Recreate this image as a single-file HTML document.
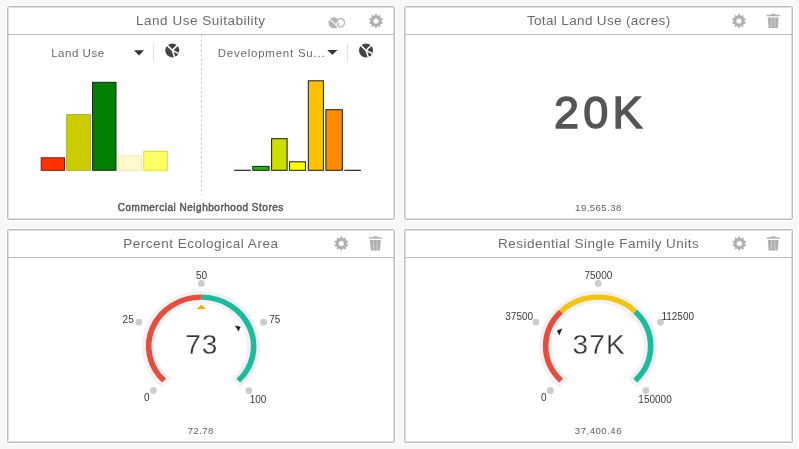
<!DOCTYPE html>
<html><head><meta charset="utf-8"><title>Dashboard</title>
<style>
html,body{margin:0;padding:0;}
body{width:799px;height:449px;background:#f7f7f7;position:relative;overflow:hidden;font-family:"Liberation Sans", Arial, sans-serif;}
.p{position:absolute;background:#fff;border:1px solid #bdbdbd;box-sizing:border-box;box-shadow:0 0 0 1px #fff, inset 0 0 0 1px #dedede;border-radius:1.5px;}
.p .h{position:absolute;left:0;right:0;top:0;height:27px;border-bottom:1px solid #bdbdbd;}
.ov{position:absolute;left:0;top:0;}
.ti{font-size:13.5px;fill:#6b6b6b;letter-spacing:0.45px;font-family:"Liberation Sans", Arial, sans-serif;}
.dd{font-size:11.5px;fill:#6a6a6a;letter-spacing:0.3px;font-family:"Liberation Sans", Arial, sans-serif;}
.cn{font-size:10px;font-weight:normal;fill:#555;stroke:#555;stroke-width:0.45px;letter-spacing:0.15px;font-family:"Liberation Sans", Arial, sans-serif;}
.big{font-size:45px;fill:#555;stroke:#555;stroke-width:1.4px;letter-spacing:3px;font-family:"Liberation Sans", Arial, sans-serif;}
.sm{font-size:9.6px;fill:#5e5e5e;letter-spacing:0.5px;font-family:"Liberation Sans", Arial, sans-serif;}
.gv{font-size:28px;fill:#333;letter-spacing:0.7px;font-family:"Liberation Sans", Arial, sans-serif;stroke:#fff;stroke-width:0.3px;paint-order:normal;}
.gl{font-size:10px;fill:#3a3a3a;font-family:"Liberation Sans", Arial, sans-serif;}
</style></head><body>
<div class="p" style="left:7px;top:6px;width:388px;height:214px;"><div class="h"></div></div>
<div class="p" style="left:404px;top:6px;width:389px;height:214px;"><div class="h"></div></div>
<div class="p" style="left:7px;top:229px;width:388px;height:214px;"><div class="h"></div></div>
<div class="p" style="left:404px;top:229px;width:389px;height:214px;"><div class="h"></div></div>
<svg class="ov" width="799" height="449" viewBox="0 0 799 449">
<line x1="201.5" y1="35.2" x2="201.5" y2="195.5" stroke="#cbcbcb" stroke-width="1" stroke-dasharray="2.3 2.37"/>
<rect x="41.2" y="157.8" width="23.299999999999997" height="12.5" fill="#ff3300" stroke="#8b1500" stroke-width="1"/>
<rect x="66.7" y="114.6" width="23.700000000000003" height="55.70000000000002" fill="#cccc00" stroke="#99bb22" stroke-width="1"/>
<rect x="92.5" y="82.3" width="23.5" height="88.00000000000001" fill="#007f00" stroke="#1a2a1a" stroke-width="1"/>
<rect x="118.6" y="155.8" width="22.80000000000001" height="14.5" fill="#fffacd" stroke="#ffe4b0" stroke-width="1"/>
<rect x="143.7" y="151.5" width="23.700000000000017" height="18.80000000000001" fill="#ffff66" stroke="#e6e600" stroke-width="1"/>
<rect x="252.8" y="166.4" width="16.30000000000001" height="3.9000000000000057" fill="#22bb00" stroke="#1a1a1a" stroke-width="1"/>
<rect x="271.6" y="138.7" width="15.5" height="31.600000000000023" fill="#ccdd00" stroke="#1a1a1a" stroke-width="1"/>
<rect x="289.6" y="161.8" width="15.799999999999955" height="8.5" fill="#ffff00" stroke="#1a1a1a" stroke-width="1"/>
<rect x="308.3" y="80.8" width="15.099999999999966" height="89.50000000000001" fill="#ffc000" stroke="#1a1a1a" stroke-width="1"/>
<rect x="325.9" y="109.7" width="16.400000000000034" height="60.60000000000001" fill="#ff8c00" stroke="#1a1a1a" stroke-width="1"/>
<line x1="234.2" y1="170.3" x2="250.9" y2="170.3" stroke="#222" stroke-width="1.2"/>
<line x1="344.3" y1="170.3" x2="360.9" y2="170.3" stroke="#222" stroke-width="1.2"/>
<g transform="translate(201.15 346.1) scale(1 0.931)">
<path d="M-34.44 39.62A52.5 52.5 0 1 1 34.44 39.62" fill="none" stroke="#f1f1f1" stroke-width="13"/>
<path d="M-37.12 37.12A52.5 52.5 0 0 1 0.00 -52.50" fill="none" stroke="#e74c3c" stroke-width="5.6"/>
<path d="M0.00 -52.50A52.5 52.5 0 0 1 37.12 37.12" fill="none" stroke="#1abc9c" stroke-width="5.6"/>
</g>
<circle cx="153.36" cy="390.5" r="3.4" fill="#cccccc"/>
<circle cx="138.9" cy="322.1" r="3.4" fill="#cccccc"/>
<circle cx="201.3" cy="283.5" r="3.4" fill="#cccccc"/>
<circle cx="263.5" cy="322.2" r="3.4" fill="#cccccc"/>
<circle cx="248.9" cy="390.6" r="3.4" fill="#cccccc"/>
<text x="146.85" y="400.9" text-anchor="middle" class="gl">0</text>
<text x="128.15" y="323" text-anchor="middle" class="gl">25</text>
<text x="201.5" y="279" text-anchor="middle" class="gl">50</text>
<text x="274.75" y="323" text-anchor="middle" class="gl">75</text>
<text x="258" y="403.1" text-anchor="middle" class="gl">100</text>
<polygon points="234.90,325.40 240.70,326.70 238.50,331.60" fill="#222"/>
<polygon points="201.30,304.60 196.85,308.90 205.75,308.90" fill="#ffa500"/>
<g transform="translate(598.15 346.1) scale(1 0.931)">
<path d="M-34.44 39.62A52.5 52.5 0 1 1 34.44 39.62" fill="none" stroke="#f1f1f1" stroke-width="13"/>
<path d="M-37.12 37.12A52.5 52.5 0 0 1 -37.12 -37.12" fill="none" stroke="#e74c3c" stroke-width="5.6"/>
<path d="M-37.12 -37.12A52.5 52.5 0 0 1 37.12 -37.12" fill="none" stroke="#f1c40f" stroke-width="5.6"/>
<path d="M37.12 -37.12A52.5 52.5 0 0 1 37.12 37.12" fill="none" stroke="#1abc9c" stroke-width="5.6"/>
</g>
<circle cx="550.36" cy="390.5" r="3.4" fill="#cccccc"/>
<circle cx="535.9" cy="322.1" r="3.4" fill="#cccccc"/>
<circle cx="598.3" cy="283.5" r="3.4" fill="#cccccc"/>
<circle cx="660.5" cy="322.2" r="3.4" fill="#cccccc"/>
<circle cx="645.9" cy="390.6" r="3.4" fill="#cccccc"/>
<text x="543.9" y="401.3" text-anchor="middle" class="gl">0</text>
<text x="519.2" y="320" text-anchor="middle" class="gl">37500</text>
<text x="598.4" y="279" text-anchor="middle" class="gl">75000</text>
<text x="677.75" y="320" text-anchor="middle" class="gl">112500</text>
<text x="655.05" y="403.2" text-anchor="middle" class="gl">150000</text>
<polygon points="562.25,328.24 556.90,330.70 559.35,335.40" fill="#222"/>
<g transform="translate(333.9 22.8)"><circle cx="6.35" cy="0" r="4.25" fill="none" stroke="#b5b5b5" stroke-width="1.3"/><circle cx="0" cy="0" r="5.45" fill="#b5b5b5"/><path d="M2.1 2.0L-4.2 -3.6M2.1 2.0L5.6 -2.6M2.1 2.0L4.6 5.2" stroke="#fff" stroke-width="1.1"/></g>
<path d="M374.67 15.66L375.33 14.03L376.67 14.03L377.33 15.66L378.06 15.90L379.55 14.97L380.64 15.76L380.21 17.46L380.66 18.09L382.42 18.21L382.83 19.48L381.49 20.62L381.49 21.38L382.83 22.52L382.42 23.79L380.66 23.91L380.21 24.54L380.64 26.24L379.55 27.03L378.06 26.10L377.33 26.34L376.67 27.97L375.33 27.97L374.67 26.34L373.94 26.10L372.45 27.03L371.36 26.24L371.79 24.54L371.34 23.91L369.58 23.79L369.17 22.52L370.51 21.38L370.51 20.62L369.17 19.48L369.58 18.21L371.34 18.09L371.79 17.46L371.36 15.76L372.45 14.97L373.94 15.90ZM378.60 21.00A2.6 2.6 0 1 0 373.40 21.00A2.6 2.6 0 1 0 378.60 21.00Z" fill="#b0b0b0" fill-rule="evenodd"/>
<path d="M737.67 15.66L738.33 14.03L739.67 14.03L740.33 15.66L741.06 15.90L742.55 14.97L743.64 15.76L743.21 17.46L743.66 18.09L745.42 18.21L745.83 19.48L744.49 20.62L744.49 21.38L745.83 22.52L745.42 23.79L743.66 23.91L743.21 24.54L743.64 26.24L742.55 27.03L741.06 26.10L740.33 26.34L739.67 27.97L738.33 27.97L737.67 26.34L736.94 26.10L735.45 27.03L734.36 26.24L734.79 24.54L734.34 23.91L732.58 23.79L732.17 22.52L733.51 21.38L733.51 20.62L732.17 19.48L732.58 18.21L734.34 18.09L734.79 17.46L734.36 15.76L735.45 14.97L736.94 15.90ZM741.60 21.00A2.6 2.6 0 1 0 736.40 21.00A2.6 2.6 0 1 0 741.60 21.00Z" fill="#b0b0b0" fill-rule="evenodd"/>
<g transform="translate(773.2 13.5)"><rect x="-2.3" y="0.2" width="4.6" height="1.4" rx="0.5" fill="#b0b0b0"/><rect x="-6.55" y="1.3" width="13.1" height="1.5" rx="0.4" fill="#b0b0b0"/><path d="M-5.4 4.1H5.4L4.6 14.5H-4.6Z" fill="#b0b0b0"/><path d="M-1.8 4.8V13.8M1.8 4.8V13.8" stroke="#d2d2d2" stroke-width="0.9"/></g>
<path d="M339.97 238.16L340.63 236.53L341.97 236.53L342.63 238.16L343.36 238.40L344.85 237.47L345.94 238.26L345.51 239.96L345.96 240.59L347.72 240.71L348.13 241.98L346.79 243.12L346.79 243.88L348.13 245.02L347.72 246.29L345.96 246.41L345.51 247.04L345.94 248.74L344.85 249.53L343.36 248.60L342.63 248.84L341.97 250.47L340.63 250.47L339.97 248.84L339.24 248.60L337.75 249.53L336.66 248.74L337.09 247.04L336.64 246.41L334.88 246.29L334.47 245.02L335.81 243.88L335.81 243.12L334.47 241.98L334.88 240.71L336.64 240.59L337.09 239.96L336.66 238.26L337.75 237.47L339.24 238.40ZM343.90 243.50A2.6 2.6 0 1 0 338.70 243.50A2.6 2.6 0 1 0 343.90 243.50Z" fill="#b0b0b0" fill-rule="evenodd"/>
<g transform="translate(375.4 236)"><rect x="-2.3" y="0.2" width="4.6" height="1.4" rx="0.5" fill="#b0b0b0"/><rect x="-6.55" y="1.3" width="13.1" height="1.5" rx="0.4" fill="#b0b0b0"/><path d="M-5.4 4.1H5.4L4.6 14.5H-4.6Z" fill="#b0b0b0"/><path d="M-1.8 4.8V13.8M1.8 4.8V13.8" stroke="#d2d2d2" stroke-width="0.9"/></g>
<path d="M737.97 238.16L738.63 236.53L739.97 236.53L740.63 238.16L741.36 238.40L742.85 237.47L743.94 238.26L743.51 239.96L743.96 240.59L745.72 240.71L746.13 241.98L744.79 243.12L744.79 243.88L746.13 245.02L745.72 246.29L743.96 246.41L743.51 247.04L743.94 248.74L742.85 249.53L741.36 248.60L740.63 248.84L739.97 250.47L738.63 250.47L737.97 248.84L737.24 248.60L735.75 249.53L734.66 248.74L735.09 247.04L734.64 246.41L732.88 246.29L732.47 245.02L733.81 243.88L733.81 243.12L732.47 241.98L732.88 240.71L734.64 240.59L735.09 239.96L734.66 238.26L735.75 237.47L737.24 238.40ZM741.90 243.50A2.6 2.6 0 1 0 736.70 243.50A2.6 2.6 0 1 0 741.90 243.50Z" fill="#b0b0b0" fill-rule="evenodd"/>
<g transform="translate(773.2 236)"><rect x="-2.3" y="0.2" width="4.6" height="1.4" rx="0.5" fill="#b0b0b0"/><rect x="-6.55" y="1.3" width="13.1" height="1.5" rx="0.4" fill="#b0b0b0"/><path d="M-5.4 4.1H5.4L4.6 14.5H-4.6Z" fill="#b0b0b0"/><path d="M-1.8 4.8V13.8M1.8 4.8V13.8" stroke="#d2d2d2" stroke-width="0.9"/></g>
<path d="M134 50.2H144L139 55.6Z" fill="#333"/>
<path d="M327.2 50H337.5L332.35 54.8Z" fill="#333"/>
<line x1="153.6" y1="43.5" x2="153.6" y2="62" stroke="#dedede" stroke-width="1"/>
<line x1="347.4" y1="43.5" x2="347.4" y2="62" stroke="#dedede" stroke-width="1"/>
<g transform="translate(172.3 50.4)"><circle r="7" fill="#444"/><path d="M0 0L-6 -6M0 0L5.5 -5.5M0 0L6.5 3.2M0 0L2.5 7" stroke="#fff" stroke-width="1.5"/></g>
<g transform="translate(366 50.5)"><circle r="7" fill="#444"/><path d="M0 0L-6 -6M0 0L5.5 -5.5M0 0L6.5 3.2M0 0L2.5 7" stroke="#fff" stroke-width="1.5"/></g>
<text x="200.8" y="25" text-anchor="middle" class="ti" textLength="129.53" lengthAdjust="spacing">Land Use Suitability</text>
<text x="598.75" y="25" text-anchor="middle" class="ti" textLength="143.72" lengthAdjust="spacing">Total Land Use (acres)</text>
<text x="200.85" y="248" text-anchor="middle" class="ti" textLength="155.09" lengthAdjust="spacing">Percent Ecological Area</text>
<text x="598.65" y="248" text-anchor="middle" class="ti" textLength="201.23" lengthAdjust="spacing">Residential Single Family Units</text>
<text x="51.2" y="57" text-anchor="start" class="dd" textLength="53.24" lengthAdjust="spacing">Land Use</text>
<text x="217.8" y="57" text-anchor="start" class="dd" textLength="107.12" lengthAdjust="spacing">Development Su...</text>
<text x="200.6" y="210.75" text-anchor="middle" class="cn" textLength="165.75" lengthAdjust="spacing">Commercial Neighborhood Stores</text>
<text x="599.7" y="128.3" text-anchor="middle" class="big" textLength="91.44" lengthAdjust="spacing">20K</text>
<text x="598.5" y="210.8" text-anchor="middle" class="sm" textLength="46.77" lengthAdjust="spacing">19,565.38</text>
<text x="201.55" y="354.1" text-anchor="middle" class="gv" textLength="32.75" lengthAdjust="spacing">73</text>
<text x="598.9" y="354.1" text-anchor="middle" class="gv" textLength="52.92" lengthAdjust="spacing">37K</text>
<text x="200.9" y="433.6" text-anchor="middle" class="sm" textLength="26.08" lengthAdjust="spacing">72.78</text>
<text x="598.4" y="433.8" text-anchor="middle" class="sm" textLength="47.17" lengthAdjust="spacing">37,400.46</text>
</svg>
</body></html>
